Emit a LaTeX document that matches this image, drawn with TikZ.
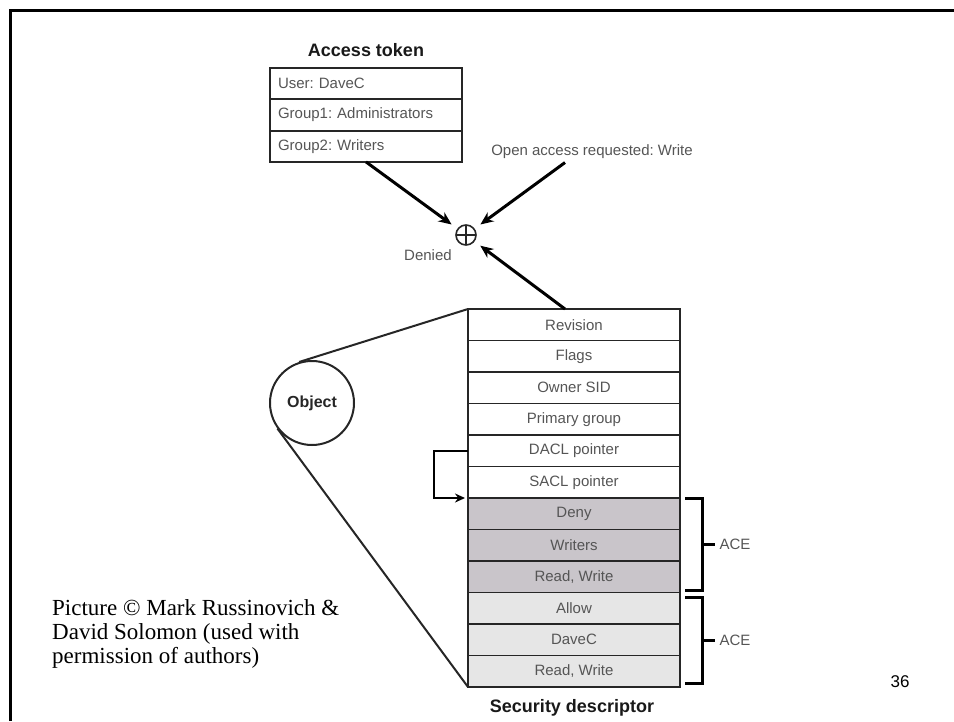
\documentclass[tikz,border=0pt]{standalone}
\usepackage{fontspec}
\setmainfont{Liberation Serif}
\setsansfont{Liberation Sans}
\usetikzlibrary{arrows.meta,positioning,calc}
\definecolor{denyfill}{HTML}{C9C5CA}
\definecolor{allowfill}{HTML}{E6E6E6}
\definecolor{inkgray}{HTML}{555555}
\frenchspacing

\begin{document}
\begin{tikzpicture}[x=1pt,y=-1pt,
  lbl/.style={font=\sffamily\fontsize{15}{18}\selectfont,text=inkgray},
  ttl/.style={font=\sffamily\bfseries\fontsize{18}{21}\selectfont,text=black!90},
  tokrow/.style={lbl,draw=black!85,line width=2pt,minimum width=192pt,
    minimum height=31.3pt,outer sep=0pt,text width=176pt,align=left,inner xsep=8pt},
  sdrow/.style={lbl,draw=black!85,line width=1.8pt,minimum width=212pt,
    minimum height=31.5pt,outer sep=0pt,inner sep=0pt},
  arr/.style={line width=3pt,-{Stealth[length=13pt,width=11pt]}},
  brk/.style={line width=3pt}]
  \useasboundingbox (0,0) rectangle (954,721);
  % slide frame
  \draw[line width=3pt] (10,721) -- (10,10) -- (954,10);

  % access token
  \node[ttl] (tok) at (366,50) {Access token};
  \node[tokrow] (user) at (366,83.65) {User: DaveC};
  \node[tokrow] (grp1) [below=0pt of user] {Group1: Administrators};
  \node[tokrow] (grp2) [below=0pt of grp1] {Group2: Writers};

  \node[lbl] (req) at (592,152) {Open access requested: Write};
  \node[circle,draw=black!85,line width=1.6pt,minimum size=20pt,inner sep=0pt,
    path picture={\draw[line width=1.6pt,black!85]
      (path picture bounding box.north) -- (path picture bounding box.south)
      (path picture bounding box.west) -- (path picture bounding box.east);}]
    (op) at (466,235) {};
  \node[lbl] (den) at (428,255) {Denied};

  % security descriptor
  \node[sdrow] (rev) at (574,324.75) {Revision};
  \node[sdrow] (flags) [below=0pt of rev] {Flags};
  \node[sdrow] (owner) [below=0pt of flags] {Owner SID};
  \node[sdrow] (pgrp) [below=0pt of owner] {Primary group};
  \node[sdrow] (dacl) [below=0pt of pgrp] {DACL pointer};
  \node[sdrow] (sacl) [below=0pt of dacl] {SACL pointer};
  \node[sdrow,fill=denyfill] (deny) [below=0pt of sacl] {Deny};
  \node[sdrow,fill=denyfill] (wrt) [below=0pt of deny] {Writers};
  \node[sdrow,fill=denyfill] (rw1) [below=0pt of wrt] {Read, Write};
  \node[sdrow,fill=allowfill] (allow) [below=0pt of rw1] {Allow};
  \node[sdrow,fill=allowfill] (dave) [below=0pt of allow] {DaveC};
  \node[sdrow,fill=allowfill] (rw2) [below=0pt of dave] {Read, Write};
  \node[ttl] (sdttl) at (572,708) {Security descriptor};

  % object and its fan lines
  \node[circle,draw=black!85,line width=2pt,minimum size=84pt,inner sep=0pt,
    font=\sffamily\bfseries\fontsize{16}{19}\selectfont,text=black!85] (obj) at (312,403) {Object};
  \draw[line width=2pt,black!85] (rev.north west)
    -- (tangent cs:node=obj,point={(rev.north west)},solution=1);
  \draw[line width=2pt,black!85] (rw2.south west)
    -- (tangent cs:node=obj,point={(rw2.south west)},solution=2);

  % arrows into the check
  \draw[arr,shorten >=7pt] (grp2.south) -- (op);
  \draw[arr,shorten >=7pt] ([xshift=-27pt]req.south) -- (op);
  \draw[arr,shorten >=7pt] ([xshift=-9pt]rev.north) -- (op);
  \draw[line width=2.5pt,-{Stealth[length=10pt,width=9pt]}]
    (dacl.west) -- ++(-34,0) |- ([xshift=-3pt]deny.north west);

  % ACE brackets
  \coordinate (b1a) at ([xshift=5pt]deny.north east);
  \coordinate (b1b) at ([xshift=5pt,yshift=2pt]rw1.south east);
  \draw[brk] (b1a) -- ++(17,0) coordinate (b1c) |- (b1b);
  \path (b1c) -- coordinate (b1m) (b1c |- b1b);
  \draw[brk] (b1m) -- ++(13,0) node[lbl,anchor=west,inner sep=3pt] (ace1) {ACE};
  \coordinate (b2a) at ([xshift=5pt,yshift=-5pt]allow.north east);
  \coordinate (b2b) at ([xshift=5pt,yshift=4pt]rw2.south east);
  \draw[brk] (b2a) -- ++(17,0) coordinate (b2c) |- (b2b);
  \path (b2c) -- coordinate (b2m) (b2c |- b2b);
  \draw[brk] (b2m) -- ++(13,0) node[lbl,anchor=west,inner sep=3pt] (ace2) {ACE};

  % credit and page number
  \node[anchor=north west,align=left,inner sep=0pt,
    font=\fontsize{23}{24}\selectfont] (credit) at (52,599)
    {Picture © Mark Russinovich \&\\David Solomon (used with\\permission of authors)};
  \node[font=\sffamily\fontsize{17}{20}\selectfont] (pgno) at (900,682) {36};
\end{tikzpicture}
\end{document}
